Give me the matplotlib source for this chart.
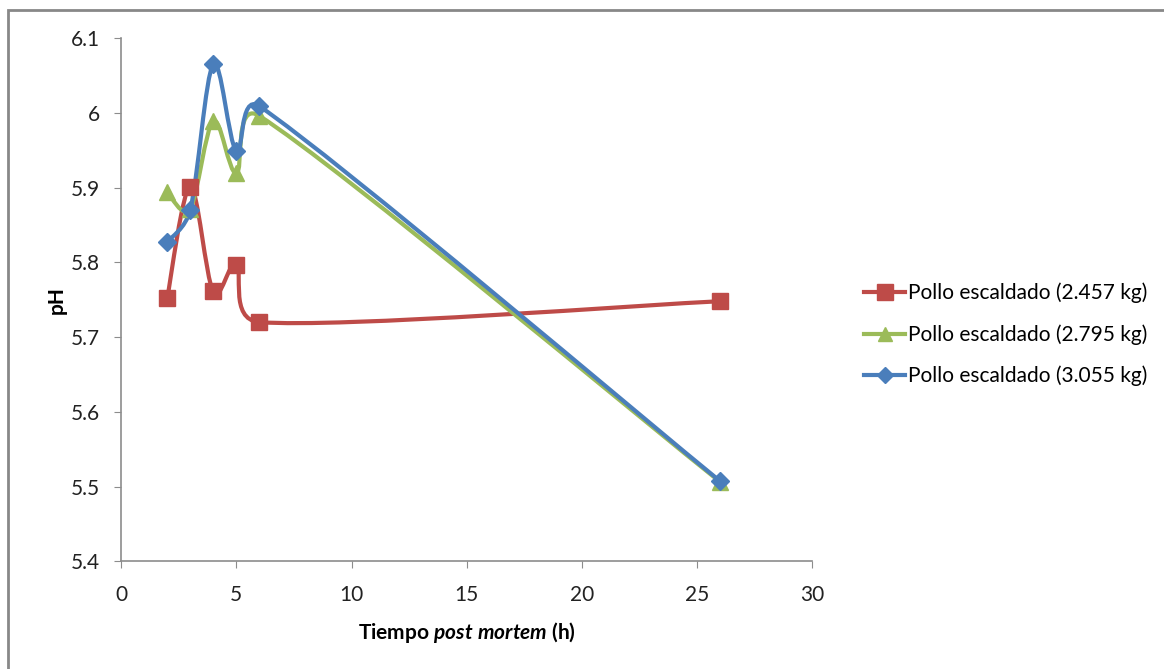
import numpy as np
import matplotlib.pyplot as plt
from matplotlib.path import Path
from matplotlib.patches import PathPatch, Rectangle
from matplotlib.lines import Line2D

plt.rcParams['font.family'] = ['Lato', 'DejaVu Sans']
plt.rcParams['mathtext.fontset'] = 'custom'
plt.rcParams['mathtext.rm'] = 'Lato:bold'
plt.rcParams['mathtext.bfit'] = 'Lato:italic:bold'
plt.rcParams['mathtext.it'] = 'Lato:italic:bold'

# data
tiempo = [2, 3, 4, 5, 6, 26]
ph_2457 = [5.752, 5.901, 5.761, 5.797, 5.720, 5.748]
ph_2795 = [5.894, 5.872, 5.989, 5.919, 5.996, 5.506]
ph_3055 = [5.827, 5.870, 6.065, 5.949, 6.009, 5.507]

labels = ['Pollo escaldado (2.457 kg)', 'Pollo escaldado (2.795 kg)', 'Pollo escaldado (3.055 kg)']
colors = ['#BE4B48', '#9BBB59', '#4A7EBB']
markers = ['s', '^', 'D']
msizes = [12, 11, 9]


def smooth_path(ax, x, y, f=1 / 6, k=0.5):
    # Excel-like smoothed line: Catmull-Rom arms, clamped to a share of the segment
    pts = ax.transData.transform(np.column_stack([x, y]).astype(float))
    n = len(pts)
    verts = [pts[0]]
    codes = [Path.MOVETO]

    def ctrl(i, fwd):
        p = pts[i]
        prev = pts[i - 1] if i > 0 else pts[i]
        nxt = pts[i + 1] if i + 1 < n else pts[i]
        v = (nxt - prev) * f
        seg = np.hypot(*((nxt - p) if fwd else (p - prev)))
        arm = np.hypot(*v)
        if arm > k * seg and arm > 0:
            v = v * (k * seg / arm)
        return p + v if fwd else p - v

    for i in range(n - 1):
        verts += [ctrl(i, True), ctrl(i + 1, False), pts[i + 1]]
        codes += [Path.CURVE4] * 3
    verts = ax.transData.inverted().transform(np.array(verts))
    return Path(verts, codes)


fig = plt.figure(figsize=(11.64, 6.69), dpi=100)
ax = fig.add_axes([0.104, 0.161, 0.594, 0.782])
ax.set_xlim(0, 30)
ax.set_ylim(5.4, 6.1)

series = [ph_2457, ph_2795, ph_3055]
handles = []
for ys, c, m, ms, lab in zip(series, colors, markers, msizes, labels):
    ax.add_patch(PathPatch(smooth_path(ax, tiempo, ys), facecolor='none',
                           edgecolor=c, lw=3, zorder=2, capstyle='round'))
    ax.plot(tiempo, ys, ls='none', marker=m, ms=ms, color=c, zorder=3)
    handles.append(Line2D([], [], color=c, lw=3, marker=m, ms=ms - 1, label=lab))

ax.set_xticks([0, 5, 10, 15, 20, 25, 30])
ax.set_yticks([5.4, 5.5, 5.6, 5.7, 5.8, 5.9, 6.0, 6.1])
ax.set_yticklabels(['5.4', '5.5', '5.6', '5.7', '5.8', '5.9', '6', '6.1'])
for s in ['top', 'right']:
    ax.spines[s].set_visible(False)
for s in ['left', 'bottom']:
    ax.spines[s].set_color('#8C8C8C')
    ax.spines[s].set_linewidth(1.2)
ax.tick_params(axis='both', colors='#8C8C8C', length=5, labelsize=15,
               labelcolor='#222222', direction='out')
ax.tick_params(axis='x', pad=12)
ax.tick_params(axis='y', pad=10)

ax.set_ylabel('pH', fontsize=15, fontweight='bold', labelpad=3)
ax.set_xlabel(r'Tiempo $\mathit{post\ mortem}$ (h)', fontsize=15,
              fontweight='bold', labelpad=11)

fig.legend(handles=handles, loc='center left', bbox_to_anchor=(0.726, 0.5),
           frameon=False, fontsize=15, handlelength=2.0, handletextpad=0.1,
           labelspacing=1.0)

fig.patches.append(Rectangle((8 / 1164, -0.05), 1.2, 1 - 10 / 669 + 0.05,
                             transform=fig.transFigure, fill=False,
                             edgecolor='#888888', lw=2))

fig.savefig('out.png', dpi=100)
